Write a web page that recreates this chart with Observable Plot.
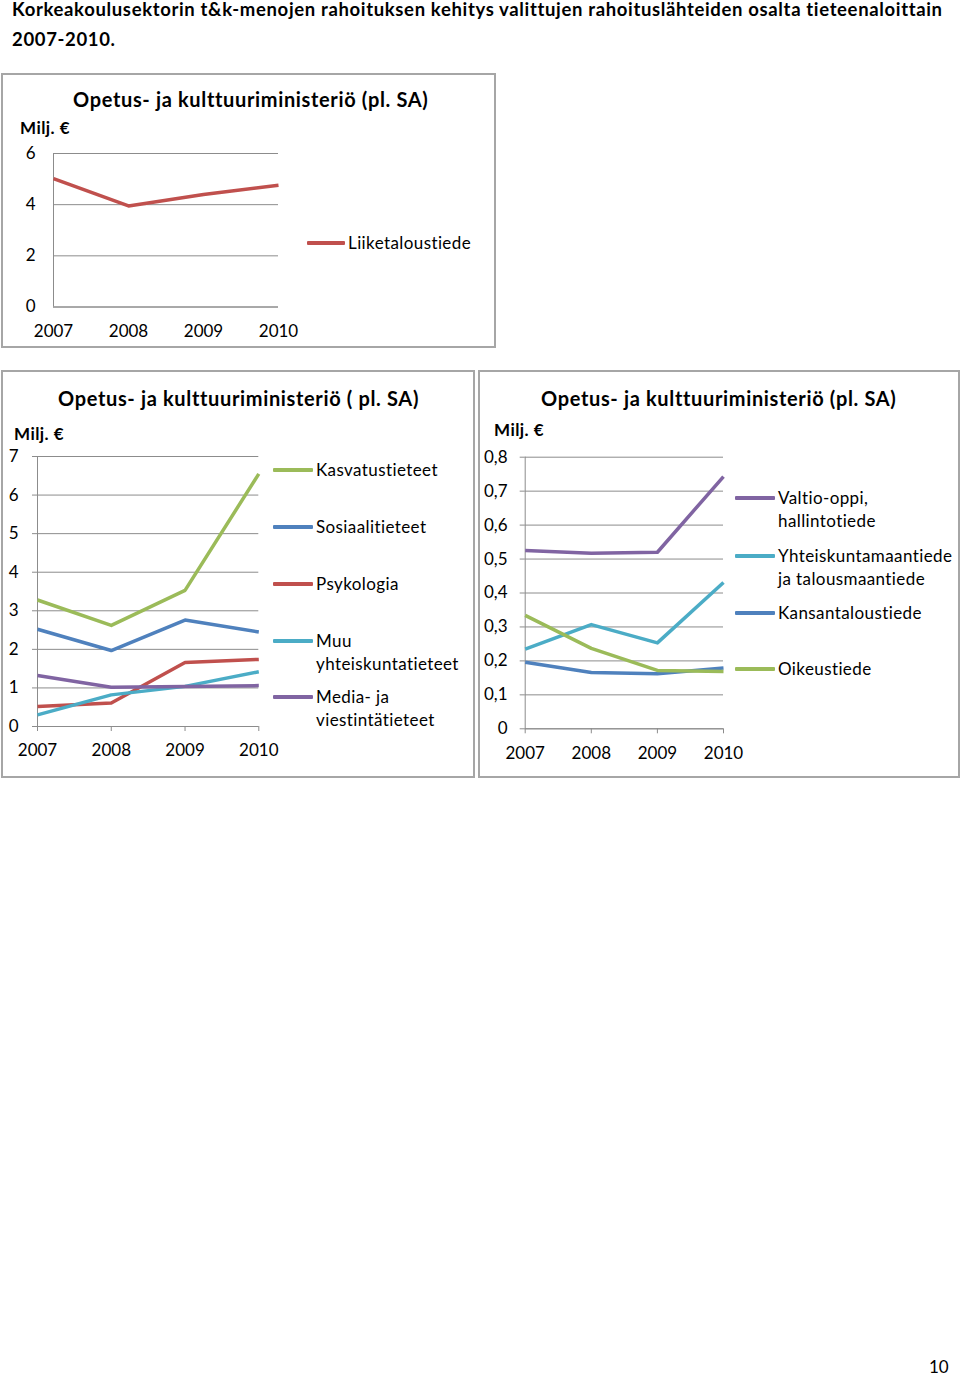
<!DOCTYPE html>
<html>
<head>
<meta charset="utf-8">
<script src="https://cdn.jsdelivr.net/npm/d3@7"></script>
<script src="https://cdn.jsdelivr.net/npm/@observablehq/plot@0.6"></script>
<style>
  html, body { margin: 0; padding: 0; background: #fff; }
  #page { position: relative; width: 960px; height: 1376px; font-family: Lato, "Open Sans", sans-serif; color: #000; }
  .abs { position: absolute; white-space: nowrap; }
  .box { position: absolute; border: 2px solid #A6A6A6; box-sizing: border-box; }
  .ctitle { font-weight: bold; font-size: 20px; letter-spacing: 0.65px; }
  .unit { font-weight: bold; font-size: 17px; letter-spacing: 0.45px; }
  .leg { font-size: 17px; line-height: 23px; letter-spacing: 0.4px; }
  .sw { position: absolute; height: 4px; border-radius: 1px; }
  svg { overflow: visible; }
</style>
</head>
<body>
<div id="page"></div>
<script>
// ---------- DATA ----------
const years = [2007, 2008, 2009, 2010];

// Chart 1
const c1Names = ["Liiketaloustiede"];
const liiketaloustiede = [5.02, 3.95, 4.40, 4.76];

// Chart 2
const c2Names = ["Kasvatustieteet", "Sosiaalitieteet", "Psykologia", "Muu yhteiskuntatieteet", "Media- ja viestintätieteet"];
const kasvatustieteet = [3.28, 2.62, 3.53, 6.55];
const sosiaalitieteet = [2.52, 1.97, 2.76, 2.45];
const psykologia = [0.52, 0.61, 1.66, 1.74];
const muuYhteiskunta = [0.30, 0.82, 1.04, 1.42];
const mediaViestinta = [1.32, 1.02, 1.04, 1.06];

// Chart 3
const c3Names = ["Valtio-oppi, hallintotiede", "Yhteiskuntamaantiede ja talousmaantiede", "Kansantaloustiede", "Oikeustiede"];
const valtioOppi = [0.525, 0.517, 0.520, 0.743];
const yhteiskuntamaantiede = [0.235, 0.307, 0.253, 0.431];
const kansantaloustiede = [0.196, 0.166, 0.162, 0.179];
const oikeustiede = [0.334, 0.237, 0.172, 0.169];

// Tick values
const c1Ticks = [0, 2, 4, 6];
const c2Ticks = [0, 1, 2, 3, 4, 5, 6, 7];
const c3Ticks = [0, 0.1, 0.2, 0.3, 0.4, 0.5, 0.6, 0.7, 0.8];

const pageTitle = ["Korkeakoulusektorin t&k-menojen rahoituksen kehitys valittujen rahoituslähteiden osalta tieteenaloittain", "2007-2010."];
const chartTitles = ["Opetus- ja kulttuuriministeriö (pl. SA)", "Opetus- ja kulttuuriministeriö ( pl. SA)", "Opetus- ja kulttuuriministeriö (pl. SA)"];
const unitLabel = "Milj. €";
const pageNumber = "10";

// ---------- STYLE ----------
const RED = "#C0504D", BLUE = "#4F81BD", GREEN = "#9BBB59", PURPLE = "#8064A2", CYAN = "#4BACC6";
const GRID = "#8C8C8C";
const FONT = "Lato, 'Open Sans', sans-serif";

function toLong(names, arrays) {
  const rows = [];
  names.forEach((n, i) => arrays[i].forEach((v, j) => rows.push({series: n, year: years[j], value: v})));
  return rows;
}

function chart({names, arrays, colors, yDomain, yTicks, fmt, width, height, ml, mt, mr, mb, xTickSize, xPad, yTickSize, yPad}) {
  const data = toLong(names, arrays);
  return Plot.plot({
    width, height, marginLeft: ml, marginTop: mt, marginRight: mr, marginBottom: mb,
    x: {domain: [2007, 2010]},
    y: {domain: yDomain},
    color: {domain: names, range: colors},
    style: {fontFamily: FONT, fontSize: "17px", color: "#000", background: "transparent", overflow: "visible"},
    marks: [
      Plot.gridY(yTicks, {stroke: GRID, strokeOpacity: 1, strokeWidth: 1}),
      Plot.axisY(yTicks, {tickSize: yTickSize, tickPadding: yPad, stroke: GRID, strokeOpacity: 1, tickFormat: fmt, label: null, fill: "#000"}),
      Plot.axisX(years, {tickSize: xTickSize, tickPadding: xPad, stroke: GRID, strokeOpacity: 1, tickFormat: d => String(d), label: null, fill: "#000"}),
      Plot.ruleY([0], {stroke: GRID, strokeWidth: 1}),
      Plot.ruleX([2007], {stroke: GRID, strokeWidth: 1}),
      Plot.line(data, {x: "year", y: "value", z: "series", stroke: "series", strokeWidth: 3.5, strokeLinejoin: "round", strokeLinecap: "butt"})
    ]
  });
}

const page = document.getElementById("page");
function place(el, left, top) { el.style.position = "absolute"; el.style.left = left + "px"; el.style.top = top + "px"; page.appendChild(el); return el; }
function text(str, cls, left, top, extra) {
  const d = document.createElement("div");
  d.className = "abs " + cls;
  d.textContent = str;
  if (extra) Object.assign(d.style, extra);
  return place(d, left, top);
}
function box(l, t, w, h) { const d = document.createElement("div"); d.className = "box"; d.style.width = w + "px"; d.style.height = h + "px"; return place(d, l, t); }
function swatch(color, l, y, w) { const d = document.createElement("div"); d.className = "sw"; d.style.background = color; d.style.width = w + "px"; return place(d, l, y - 2); }

// Page title
const titleStyle = {fontWeight: "bold", fontSize: "18.5px", letterSpacing: "0.65px"};
text(pageTitle[0], "", 12, -2, titleStyle);
text(pageTitle[1], "", 12, 28, titleStyle);

// Boxes
box(1, 73, 495, 275);
box(1, 370, 474, 408);
box(478, 370, 482, 408);

// ---- Chart 1 ----
text(chartTitles[0], "ctitle", 73, 87);
text(unitLabel, "unit", 20, 117);
place(chart({names: c1Names, arrays: [liiketaloustiede], colors: [RED], yDomain: [0, 6], yTicks: c1Ticks, fmt: d => String(d),
  width: 300, height: 205, ml: 53, mt: 13, mr: 22, mb: 38.5, xTickSize: 0, xPad: 18, yTickSize: 0, yPad: 18}), 0, 140);
swatch(RED, 307, 243, 38);
text(c1Names[0], "leg", 348, 231);

// ---- Chart 2 ----
text(chartTitles[1], "ctitle", 58, 386);
text(unitLabel, "unit", 14, 423);
place(chart({names: c2Names, arrays: [kasvatustieteet, sosiaalitieteet, psykologia, muuYhteiskunta, mediaViestinta], colors: [GREEN, BLUE, RED, CYAN, PURPLE],
  yDomain: [0, 7], yTicks: c2Ticks, fmt: d => String(d),
  width: 270, height: 320, ml: 37, mt: 16, mr: 11.7, mb: 34, xTickSize: 5, xPad: 12.5, yTickSize: 5, yPad: 14}), 0, 440);
const leg2 = [["Kasvatustieteet"], ["Sosiaalitieteet"], ["Psykologia"], ["Muu", "yhteiskuntatieteet"], ["Media- ja", "viestintätieteet"]];
const leg2y = [470, 527, 584, 641, 697];
const c2Colors = [GREEN, BLUE, RED, CYAN, PURPLE];
leg2.forEach((lines, i) => {
  swatch(c2Colors[i], 273, leg2y[i], 40);
  const d = text("", "leg", 316, leg2y[i] - 12);
  d.innerHTML = lines.join("<br>");
});

// ---- Chart 3 ----
text(chartTitles[2], "ctitle", 541, 386);
text(unitLabel, "unit", 494, 419);
const fmt3 = d => d === 0 ? "0" : d.toFixed(1).replace(".", ",");
place(chart({names: c3Names, arrays: [valtioOppi, yhteiskuntamaantiede, kansantaloustiede, oikeustiede], colors: [PURPLE, CYAN, BLUE, GREEN],
  yDomain: [0, 0.8], yTicks: c3Ticks, fmt: fmt3,
  width: 260, height: 320, ml: 44.7, mt: 16.7, mr: 17, mb: 31.7, xTickSize: 5, xPad: 13.5, yTickSize: 5, yPad: 12.7}), 480, 440);
const leg3 = [["Valtio-oppi,", "hallintotiede"], ["Yhteiskuntamaantiede", "ja talousmaantiede"], ["Kansantaloustiede"], ["Oikeustiede"]];
const leg3y = [498, 556, 613, 669];
const c3Colors = [PURPLE, CYAN, BLUE, GREEN];
leg3.forEach((lines, i) => {
  swatch(c3Colors[i], 735, leg3y[i], 40);
  const d = text("", "leg", 778, leg3y[i] - 12);
  d.innerHTML = lines.join("<br>");
});

// Page number
text(pageNumber, "", 929, 1356, {fontSize: "17px"});
</script>
</body>
</html>
